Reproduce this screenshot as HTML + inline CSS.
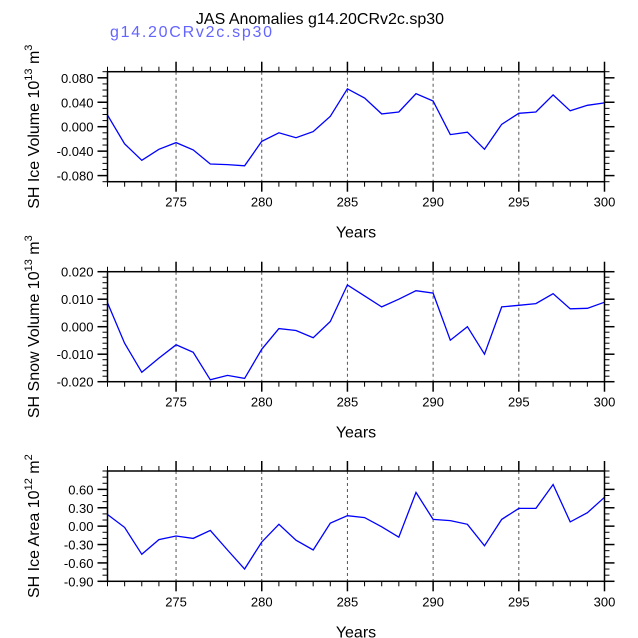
<!DOCTYPE html>
<html><head><meta charset="utf-8"><style>
body{margin:0;background:#fff}
svg{display:block;font-family:"Liberation Sans",Arial,sans-serif}
</style></head><body>
<svg id="c" width="638" height="638" viewBox="0 0 638 638">
<text x="320" y="24" font-size="16" text-anchor="middle" fill="#000">JAS Anomalies g14.20CRv2c.sp30</text>
<text x="110" y="37" font-size="16" fill="#6464ff" textLength="162">g14.20CRv2c.sp30</text>
</svg>
<script>
const years=[271,272,273,274,275,276,277,278,279,280,281,282,283,284,285,286,287,288,289,290,291,292,293,294,295,296,297,298,299,300];
const iceVolume=[0.019,-0.028,-0.055,-0.037,-0.026,-0.038,-0.061,-0.062,-0.064,-0.024,-0.010,-0.018,-0.008,0.017,0.062,0.047,0.021,0.024,0.054,0.042,-0.013,-0.009,-0.037,0.004,0.022,0.024,0.052,0.026,0.035,0.039];
const snowVolume=[0.0087,-0.006,-0.0166,-0.0114,-0.0066,-0.0093,-0.0193,-0.0177,-0.0188,-0.0082,-0.0007,-0.0014,-0.004,0.0019,0.0152,0.0112,0.0072,0.010,0.0131,0.0122,-0.0049,0.0,-0.010,0.0072,0.0078,0.0084,0.012,0.0065,0.0067,0.0089];
const iceArea=[0.19,-0.02,-0.46,-0.22,-0.16,-0.20,-0.07,-0.39,-0.70,-0.26,0.03,-0.23,-0.39,0.05,0.17,0.14,-0.01,-0.18,0.55,0.11,0.09,0.03,-0.32,0.11,0.29,0.29,0.68,0.07,0.22,0.47];
const xTicks=[275,280,285,290,295,300];
const iceVolTicks=["0.080","0.040","0.000","-0.040","-0.080"];
const snowVolTicks=["0.020","0.010","0.000","-0.010","-0.020"];
const iceAreaTicks=["0.60","0.30","0.00","-0.30","-0.60","-0.90"];

const svg=document.getElementById('c');
const NS='http://www.w3.org/2000/svg';
function mk(t,a){const e=document.createElementNS(NS,t);for(const k in a)e.setAttribute(k,a[k]);svg.appendChild(e);return e;}
const L=107.5,R=604.5;
function xs(v){return L+(v-271)/(300-271)*(R-L);}

function panel(name,top,bot,ymin,ymax,data,tickLabels,minorStep,titleParts){
  const ys=v=>bot-(v-ymin)/(ymax-ymin)*(bot-top);
  for(const t of xTicks){ if(t===300)continue;
    const g=mk('line',{x1:xs(t),x2:xs(t),y1:top,y2:bot,stroke:'#555','stroke-width':1,'stroke-dasharray':'3,3'});
    
    
  }
  for(let y=271;y<=300;y++){
    const maj=xTicks.includes(y);const len=maj?10:5;
    const a=mk('line',{x1:xs(y),x2:xs(y),y1:bot,y2:bot+len,stroke:'#000','stroke-width':maj?1.5:1});
    
    
    const b=mk('line',{x1:xs(y),x2:xs(y),y1:top,y2:top-len,stroke:'#000','stroke-width':maj?1.5:1});
    
    
  }
  for(const t of xTicks){
    const tx=mk('text',{x:xs(t),y:bot+25,'font-size':13,'text-anchor':'middle'});
    tx.textContent=t;
    
    
  }
  const nMin=Math.round((ymax-ymin)/minorStep);
  for(let i=0;i<=nMin;i++){
    const v=ymin+i*minorStep;
    const maj=tickLabels.some(s=>Math.abs(parseFloat(s)-v)<minorStep/10);
    const len=maj?10:5;
    const a=mk('line',{x1:L,x2:L-len,y1:ys(v),y2:ys(v),stroke:'#000','stroke-width':maj?1.5:1});
    
    
    const b=mk('line',{x1:R,x2:R+len,y1:ys(v),y2:ys(v),stroke:'#000','stroke-width':maj?1.5:1});
    
    
  }
  for(const s of tickLabels){
    const tx=mk('text',{x:L-14,y:ys(parseFloat(s))+5,'font-size':13,'text-anchor':'end'});
    tx.textContent=s;
    
    
  }
  const pts=data.map((v,i)=>xs(years[i]).toFixed(1)+','+ys(v).toFixed(1)).join(' ');
  const pl=mk('polyline',{points:pts,fill:'none',stroke:'#0000ff','stroke-width':1.3});
  
  
  const fr=mk('rect',{x:L,y:top,width:R-L,height:bot-top,fill:'none',stroke:'#000','stroke-width':1.5});
  
  
  const xt=mk('text',{x:(L+R)/2,y:bot+56,'font-size':16,'text-anchor':'middle'});
  xt.textContent='Years';
  
  
  const cy=(top+bot)/2;
  const yt=mk('text',{x:0,y:0,'font-size':16,'text-anchor':'middle',transform:'translate(39,'+cy+') rotate(-90)'});
  yt.innerHTML=titleParts;
  
  
}
panel('ice-volume-panel',71.7,181.7,-0.09,0.09,iceVolume,iceVolTicks,0.01,'SH Ice Volume 10<tspan dy="-7" font-size="11">13</tspan><tspan dy="7"> m</tspan><tspan dy="-7" font-size="11">3</tspan>');
panel('snow-volume-panel',271.7,381.7,-0.02,0.02,snowVolume,snowVolTicks,0.002,'SH Snow Volume 10<tspan dy="-7" font-size="11">13</tspan><tspan dy="7"> m</tspan><tspan dy="-7" font-size="11">3</tspan>');
panel('ice-area-panel',471,581.3,-0.9,0.9,iceArea,iceAreaTicks,0.1,'SH Ice Area 10<tspan dy="-7" font-size="11">12</tspan><tspan dy="7"> m</tspan><tspan dy="-7" font-size="11">2</tspan>');
</script>
</body></html>
